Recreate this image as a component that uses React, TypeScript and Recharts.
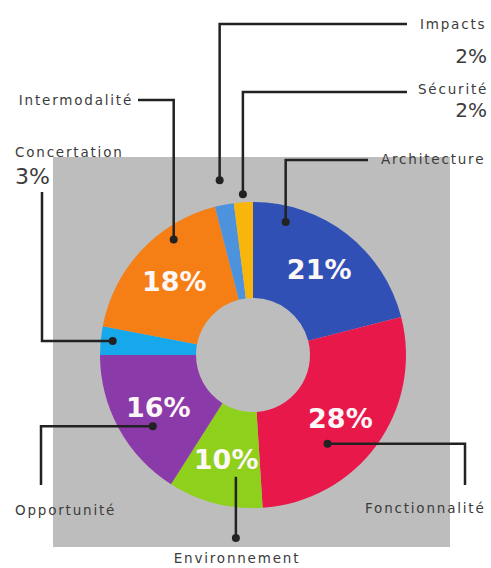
import React from "react";
import { PieChart, Pie, Cell } from "recharts";

// slices, clockwise from 12 o'clock
const categories = [
  "Architecture",
  "Fonctionnalité",
  "Environnement",
  "Opportunité",
  "Concertation",
  "Intermodalité",
  "Impacts",
  "Sécurité",
];
const shares = [21, 28, 10, 16, 3, 18, 2, 2];
const colors = [
  "#3050b6",
  "#e9184b",
  "#8fd01c",
  "#8b3aa9",
  "#17a8ec",
  "#f57f14",
  "#4d92dc",
  "#f8b50c",
];

const data = categories.map((name, i) => ({ name, value: shares[i] }));

// callout layout (annotation only): anchor is polar around the pie centre
type Callout = {
  turn: number; // degrees added to the slice mid angle (clockwise)
  r: number;
  route: "v" | "h";
  endX?: number;
  endY: number;
  dotAtEnd?: boolean;
  label: [number, number, "start" | "middle" | "end"];
  pct?: [number, number, "start" | "middle" | "end", number];
};

const callouts: Record<string, Callout> = {
  Impacts: { turn: 0, r: 178, route: "v", endX: 407, endY: 24, label: [420, 24, "start"], pct: [487, 56, "end", 20] },
  Sécurité: { turn: 0, r: 161, route: "v", endX: 407, endY: 92, label: [418, 89, "start"], pct: [487, 110, "end", 20] },
  Architecture: { turn: -24, r: 137, route: "v", endX: 368, endY: 160, label: [381, 159, "start"] },
  Fonctionnalité: { turn: 14, r: 116, route: "h", endX: 465, endY: 485, label: [365, 508, "start"] },
  Environnement: { turn: -6.4, r: 123, route: "v", endY: 538, dotAtEnd: true, label: [237, 558, "middle"] },
  Opportunité: { turn: -6.6, r: 123, route: "h", endX: 41, endY: 485, label: [15, 510, "start"] },
  Concertation: { turn: 0.3, r: 141, route: "h", endX: 42, endY: 192, label: [15, 152, "start"], pct: [15, 176, "start", 22] },
  Intermodalité: { turn: 12.3, r: 140, route: "v", endX: 138, endY: 100, label: [133, 100, "end"] },
};

const RAD = Math.PI / 180;
const LINE = "#222";
const TEXT = "#3c3c3c";

const renderLabel = (props: any) => {
  const { cx, cy, midAngle, innerRadius, outerRadius, name, value } = props;
  const theta = 90 - midAngle; // clockwise from top
  const c = callouts[name];
  const out: React.ReactNode[] = [];

  if (value >= 10) {
    const r = (innerRadius + outerRadius) / 2 + 3;
    out.push(
      <text
        key="pct"
        x={cx + r * Math.sin(theta * RAD)}
        y={cy - r * Math.cos(theta * RAD)}
        textAnchor="middle"
        dominantBaseline="central"
        fill="#fdf7f7"
        fontFamily="DejaVu Sans"
        fontWeight={700}
        fontSize={27}
      >
        {value}%
      </text>
    );
  }

  if (c) {
    const a = (theta + c.turn) * RAD;
    const ax = cx + c.r * Math.sin(a);
    const ay = cy - c.r * Math.cos(a);
    const ex = c.endX ?? ax;
    const ey = c.endY;
    const bend = c.route === "v" ? [ax, ey] : [ex, ay];
    const dot = c.dotAtEnd ? [ex, ey] : [ax, ay];
    out.push(
      <polyline
        key="line"
        points={`${ax},${ay} ${bend[0]},${bend[1]} ${ex},${ey}`}
        fill="none"
        stroke={LINE}
        strokeWidth={2.5}
      />,
      <circle key="dot" cx={dot[0]} cy={dot[1]} r={4} fill={LINE} />,
      <text
        key="name"
        x={c.label[0]}
        y={c.label[1]}
        textAnchor={c.label[2]}
        dominantBaseline="central"
        fill={TEXT}
        fontFamily="DejaVu Sans"
        fontSize={13.5}
        letterSpacing={1.8}
      >
        {name}
      </text>
    );
    if (c.pct) {
      out.push(
        <text
          key="val"
          x={c.pct[0]}
          y={c.pct[1]}
          textAnchor={c.pct[2]}
          dominantBaseline="central"
          fill={TEXT}
          fontFamily="DejaVu Sans"
          fontSize={c.pct[3]}
        >
          {value}%
        </text>
      );
    }
  }

  return <g>{out}</g>;
};

export default function App() {
  return (
    <div
      style={{
        position: "absolute",
        left: 0,
        top: 0,
        width: 491,
        height: 568,
        background: "#fff",
        overflow: "hidden",
      }}
    >
      <div
        style={{
          position: "absolute",
          left: 53,
          top: 157,
          width: 397,
          height: 390,
          background: "#bdbdbd",
        }}
      />
      <div style={{ position: "absolute", left: 0, top: 0 }}>
        <PieChart width={491} height={568} margin={{ top: 0, right: 0, bottom: 0, left: 0 }}>
          <Pie
            data={data}
            dataKey="value"
            nameKey="name"
            cx={253}
            cy={355}
            innerRadius={57}
            outerRadius={153}
            startAngle={90}
            endAngle={-270}
            stroke="none"
            label={renderLabel}
            labelLine={false}
            isAnimationActive={false}
          >
            {data.map((d, i) => (
              <Cell key={d.name} fill={colors[i]} />
            ))}
          </Pie>
        </PieChart>
      </div>
    </div>
  );
}
